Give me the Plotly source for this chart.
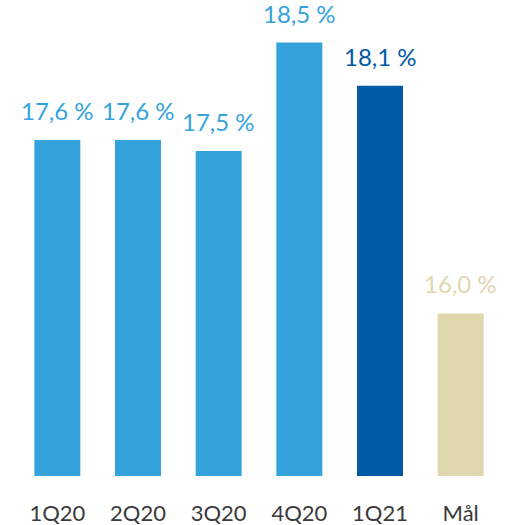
import plotly.graph_objects as go

categories = ["1Q20", "2Q20", "3Q20", "4Q20", "1Q21", "Mål"]
values = [17.6, 17.6, 17.5, 18.5, 18.1, 16.0]
labels = ["17,6 %", "17,6 %", "17,5 %", "18,5 %", "18,1 %", "16,0 %"]
colors = ["#34A3DB", "#34A3DB", "#34A3DB", "#34A3DB", "#005AA5", "#E0D7AF"]

fig = go.Figure()
fig.add_trace(go.Bar(
    x=categories, y=values, marker=dict(color=colors, line=dict(width=0)),
    hoverinfo="skip",
))

for c, v, t, col in zip(categories, values, labels, colors):
    fig.add_annotation(x=c, y=v, text=t, showarrow=False, yanchor="bottom",
                       yshift=13, font=dict(family="Lato", size=24, color=col))

fig.update_layout(
    width=508, height=525,
    margin=dict(l=17, r=7, t=10, b=49),
    paper_bgcolor="white", plot_bgcolor="white",
    bargap=0.43, showlegend=False,
    xaxis=dict(showline=False, showgrid=False, zeroline=False, ticks="",
               tickfont=dict(family="Lato", size=22, color="#3A3A3A"),
               ticklabelstandoff=22, automargin=False, fixedrange=True),
    yaxis=dict(range=[14.5, 18.8], visible=False, fixedrange=True),
)
fig.write_html("out.html", config={"displayModeBar": False, "staticPlot": True},
               post_script="document.body.style.margin='0';document.body.style.overflow='hidden';")
